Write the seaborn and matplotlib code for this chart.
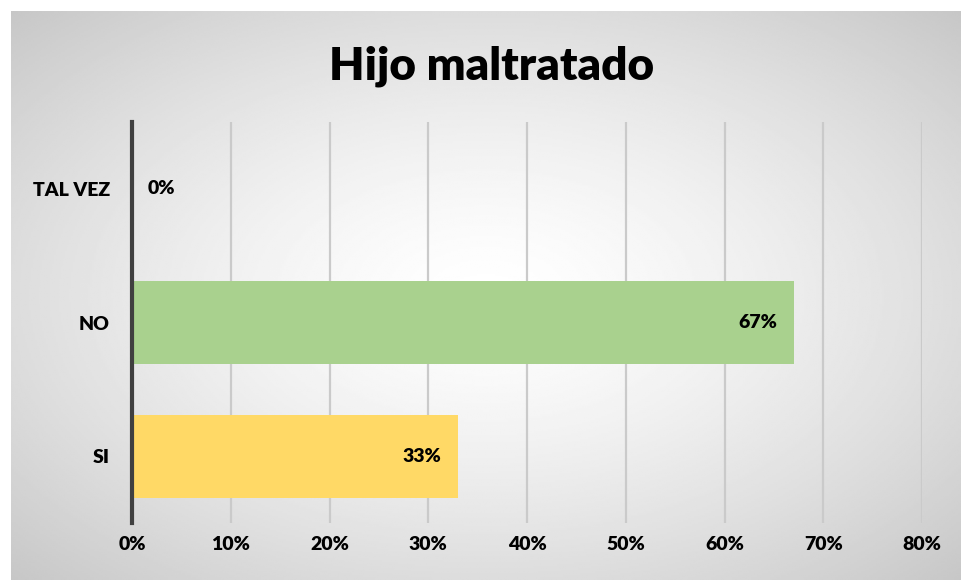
import numpy as np
import pandas as pd
import matplotlib
matplotlib.use("Agg")
import matplotlib.pyplot as plt
import seaborn as sns

# data
categorias = ["TAL VEZ", "NO", "SI"]
porcentajes = [0, 67, 33]
colores = ["#A9D18E", "#A9D18E", "#FFD966"]
titulo = "Hijo maltratado"

df = pd.DataFrame({"cat": categorias, "pct": porcentajes})

sns.set_theme(style="white")
plt.rcParams["font.family"] = ["Lato", "DejaVu Sans"]

fig = plt.figure(figsize=(9.61, 5.80), dpi=100)
fig.patch.set_facecolor("white")

# radial gradient background panel
bg = fig.add_axes([11 / 961, 0, 1 - 11 / 961, 1 - 11 / 580])
yy, xx = np.mgrid[-1:1:300j, -1:1:500j]
r = np.sqrt(xx ** 2 + yy ** 2) / np.sqrt(2)
shade = 1.0 - 0.22 * r ** 1.4
bg.imshow(shade, cmap="gray", vmin=0, vmax=1, aspect="auto", extent=[0, 1, 0, 1])
bg.set_axis_off()

ax = fig.add_axes([132 / 961, 1 - 523 / 580, (922 - 132) / 961, (523 - 122) / 580])
ax.patch.set_alpha(0)

sns.barplot(data=df, y="cat", x="pct", hue="cat", palette=colores, order=categorias,
            hue_order=categorias, dodge=False, legend=False, width=0.62, ax=ax,
            saturation=1, linewidth=0)

lbl = dict(fontsize=14, fontweight="heavy", color="black")

ax.set_xlim(0, 80)
ax.set_ylim(2.5, -0.5)
ax.set_xticks(range(0, 81, 10))
ax.set_xticklabels([f"{t}%" for t in range(0, 81, 10)], **lbl)
ax.set_yticklabels(categorias, **lbl)
ax.tick_params(axis="x", length=0, pad=9)
ax.tick_params(axis="y", length=0, pad=16)
ax.set_xlabel("")
ax.set_ylabel("")

ax.grid(axis="x", color="#cacaca", linewidth=1.6, zorder=0)
ax.set_axisbelow(True)
for side in ["top", "right", "bottom"]:
    ax.spines[side].set_visible(False)
ax.spines["left"].set_color("#404040")
ax.spines["left"].set_linewidth(3)
ax.spines["left"].set_zorder(5)

for i, v in enumerate(porcentajes):
    if v > 0:
        ax.annotate(f"{v}%", (v, i), xytext=(-12, 0), textcoords="offset points",
                    ha="right", va="center", **lbl)
    else:
        ax.annotate(f"{v}%", (v, i), xytext=(11, 0), textcoords="offset points",
                    ha="left", va="center", **lbl)

fig.text(492 / 961, 1 - 66 / 580, titulo, ha="center", va="center",
         fontsize=33, fontweight="heavy", color="black")

fig.savefig("out.png", dpi=100)
